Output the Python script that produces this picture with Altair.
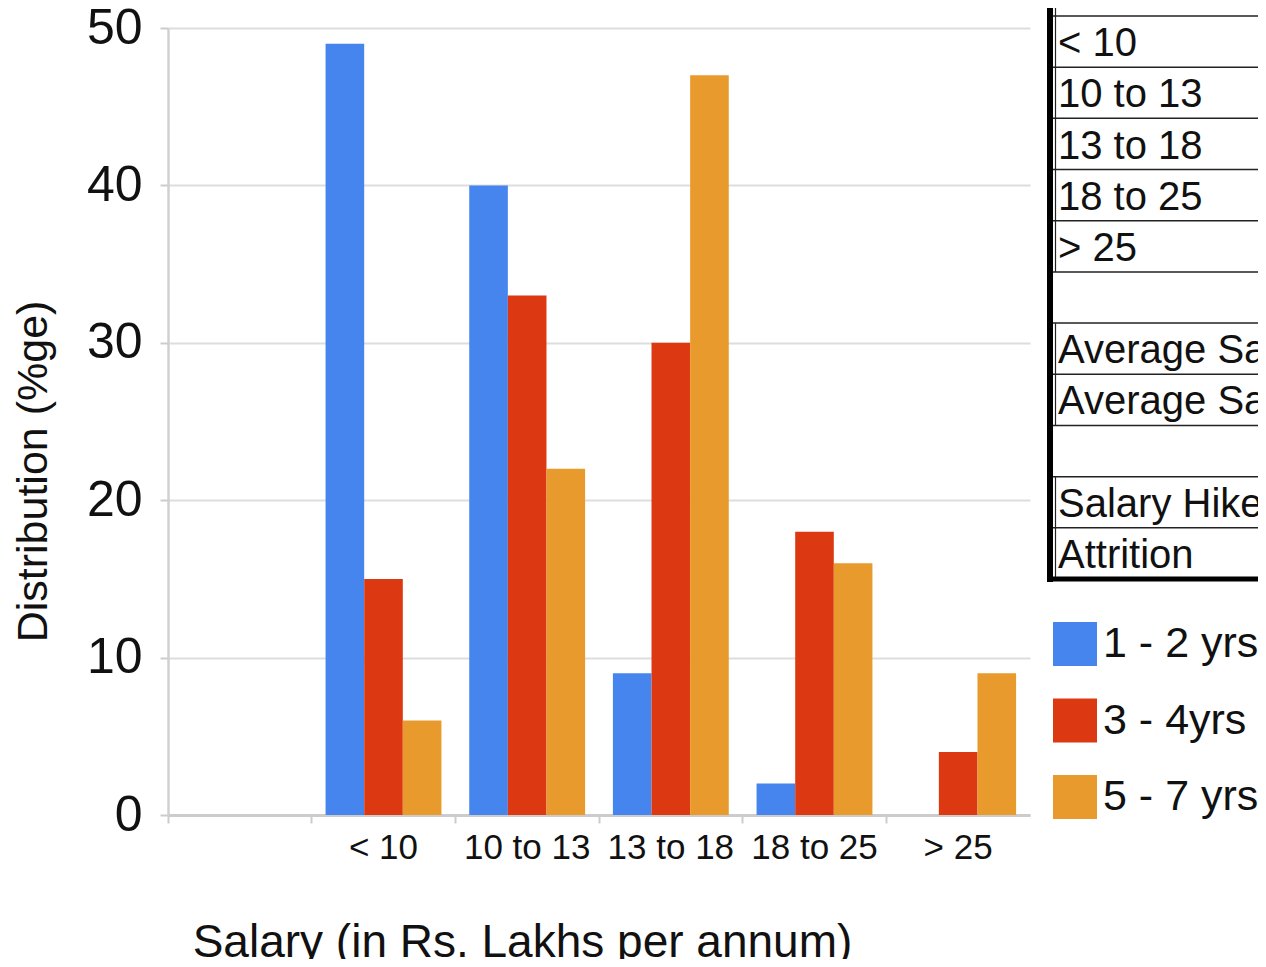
import altair as alt
import pandas as pd

categories = ["< 10", "10 to 13", "13 to 18", "18 to 25", "> 25"]
series = ["1 - 2 yrs", "3 - 4yrs", "5 - 7 yrs"]
vals_1_2 = [49, 40, 9, 2, 0]
vals_3_4 = [15, 33, 30, 18, 4]
vals_5_7 = [6, 22, 47, 16, 9]
colors = ["#4684EE", "#DC3912", "#E99A2C"]
y_ticks = [0, 10, 20, 30, 40, 50]

table_rows = ["< 10", "10 to 13", "13 to 18", "18 to 25", "> 25", "",
              "Average Salary", "Average Salary", "", "Salary Hike", "Attrition"]

FONT = "Liberation Sans, Arial, Helvetica, sans-serif"

rows = []
for s, vals in zip(series, [vals_1_2, vals_3_4, vals_5_7]):
    for c, v in zip(categories, vals):
        rows.append({"cat": c, "series": s, "value": v})
df = pd.DataFrame(rows)

x_domain = [" "] + categories

bars = alt.Chart(df).mark_bar().encode(
    x=alt.X("cat:N", scale=alt.Scale(domain=x_domain, paddingInner=0, paddingOuter=0),
            sort=x_domain,
            axis=alt.Axis(title="Salary (in Rs. Lakhs per annum)", bandPosition=0,
                          labelAngle=0, labelFontSize=35,
                          labelColor="#111", labelPadding=7, tickSize=8,
                          tickColor="#CCCCCC", tickWidth=2, domainColor="#CCCCCC",
                          domainWidth=3, grid=False, titleFontSize=46,
                          titleFontWeight="normal", titleColor="#111",
                          titleX=354, titleY=141, titleBaseline="alphabetic",
                          titleAlign="center", titleAnchor="start")),
    xOffset=alt.XOffset("series:N", sort=series,
                        scale=alt.Scale(domain=series, paddingInner=0, paddingOuter=0.36)),
    y=alt.Y("value:Q", scale=alt.Scale(domain=[0, 50], nice=False),
            axis=alt.Axis(title="Distribution (%ge)", values=y_ticks, labelFontSize=50,
                          labelColor="#111", labelPadding=18, tickSize=8,
                          tickColor="#CCCCCC", tickWidth=2, domainColor="#D0D0D0",
                          domainWidth=2.5, gridColor="#DDDDDD", gridWidth=2,
                          titleFontSize=43, titleFontWeight="normal", titleColor="#111",
                          titleX=-135, titleY=443, titleBaseline="middle",
                          titleAlign="center", titleAngle=270)),
    color=alt.Color("series:N", sort=series,
                    scale=alt.Scale(domain=series, range=colors),
                    legend=alt.Legend(title=None, orient="none", legendX=885, legendY=594,
                                      symbolType="square", symbolSize=1936,
                                      symbolStrokeWidth=0, symbolOpacity=1,
                                      labelFontSize=43, labelColor="#111",
                                      labelOffset=6, rowPadding=32.5, labelLimit=0,
                                      padding=0)),
)

# Table overlay (spreadsheet fragment on the right)
row_scale = alt.Scale(domain=[0, 11], range=[-12, 551])

bounds = pd.DataFrame({"b": list(range(0, 11))})
hlines = alt.Chart(bounds).mark_rule(color="#222", strokeWidth=1.5).encode(
    y=alt.Y("b:Q", scale=row_scale, axis=None),
    x=alt.value(885), x2=alt.value(1110),
)

cell_rows = [{"top": -1, "bot": 0}]
for i, t in enumerate(table_rows):
    if t != "":
        cell_rows.append({"top": i, "bot": i + 1})
cells = pd.DataFrame(cell_rows)
vlines = alt.Chart(cells).mark_rule(color="#222", strokeWidth=1.2).encode(
    y=alt.Y("top:Q", scale=row_scale, axis=None),
    y2="bot:Q",
    x=alt.value(887.5),
)

texts_df = pd.DataFrame({"label": table_rows,
                         "mid": [i + 0.55 for i in range(len(table_rows))]})
texts = alt.Chart(texts_df).mark_text(align="left", baseline="middle", fontSize=40,
                                      font=FONT, color="#111").encode(
    y=alt.Y("mid:Q", scale=row_scale, axis=None),
    x=alt.value(890),
    text="label:N",
)

thick_bottom = alt.Chart(pd.DataFrame({"b": [11]})).mark_rule(
    color="#000", strokeWidth=5).encode(
    y=alt.Y("b:Q", scale=row_scale, axis=None),
    x=alt.value(879), x2=alt.value(1110),
)
thick_left = alt.Chart(pd.DataFrame({"b": [11]})).mark_rule(
    color="#000", strokeWidth=6).encode(
    y=alt.value(-40), y2=alt.value(554), x=alt.value(882),
)

table = alt.layer(hlines, vlines, texts, thick_bottom, thick_left)

chart = alt.layer(bars, table).resolve_scale(
    y="independent", x="independent"
).properties(
    width=862, height=787,
    padding={"left": 160, "top": 20, "right": 228, "bottom": 144},
    autosize=alt.AutoSizeParams(type="none"),
).configure(
    font=FONT,
).configure_view(
    stroke=None,
)

chart.save("out.html", embed_options={"renderer": "svg", "actions": False})
